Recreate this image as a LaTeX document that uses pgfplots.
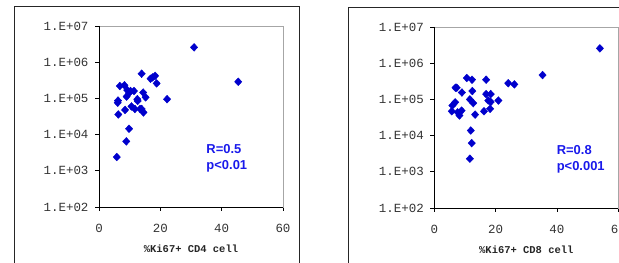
\documentclass[border=0pt]{standalone}
\usepackage{fontspec}
\setmainfont{Liberation Sans}
\setsansfont{Liberation Sans}
\setmonofont{Liberation Mono}
\usepackage{pgfplots}
\pgfplotsset{compat=1.18}
\definecolor{mk}{RGB}{0,0,204}
\definecolor{tx}{RGB}{25,25,235}
\pgfplotsset{
  panel/.style={
    scale only axis, width=184bp, height=181bp, anchor=south west,
    xmin=0, xmax=60, ymin=1e2, ymax=1e7,
    xtick={0,20,40,60}, xticklabels={0,20,40,60},
    ytick={1e2,1e3,1e4,1e5,1e6,1e7},
    yticklabels={1.E+02,1.E+03,1.E+04,1.E+05,1.E+06,1.E+07},
    yminorticks=false,
    tick align=outside, major tick length=4bp,
    xtick pos=bottom, ytick pos=left,
    tick style={black, line width=0.8bp},
    axis line style={gray!70, line width=0.8bp},
    ticklabel style={font=\fontsize{12.5}{14}\selectfont\ttfamily, text=black!80},
    yticklabel style={xshift=-3bp},
    xticklabel style={yshift=-10bp},
    xlabel style={font=\fontsize{10.5}{12}\selectfont\ttfamily\bfseries, text=black!85, at={(axis description cs:0.5,0)}, anchor=center, yshift=-42bp},
    clip=false,
  },
  pts/.style={only marks, mark=diamond*, mark size=3.9bp, mark options={fill=mk, draw=mk, xscale=1.25}},
}
\begin{document}
\begin{tikzpicture}
\useasboundingbox (0,0) rectangle (619bp,263bp);
\clip (0,0) rectangle (619bp,263bp);
\draw[black!85, line width=1bp] (14bp,-5bp) -- (14bp,256bp) -- (299bp,256bp) -- (299bp,-5bp);
\draw[black!85, line width=1bp] (348bp,-5bp) -- (348bp,255bp) -- (640bp,255bp);
\begin{axis}[ymode=log, panel, at={(99bp,56bp)}, xlabel={\%Ki67+ CD4 cell}]
\addplot[pts] coordinates {
(31.0,2.57e6) (45.4,2.88e5) (22.2,9.5e4) (5.8,2.4e3) (8.9,6.5e3) (9.8,1.45e4)
(13.9,4.8e5) (16.8,3.5e5) (18.3,4.2e5) (18.8,2.6e5) (17.5,3.8e5)
(6.3,3.6e4) (6.1,7.6e4) (6.2,8.7e4) (6.8,2.2e5) (8.3,2.3e5) (9.2,1.7e5)
(9.0,1.12e5) (8.5,4.8e4) (10.6,6.0e4) (11.7,5.1e4) (13.4,5.1e4) (14.5,4.1e4)
(13.9,5.1e4) (11.4,1.6e5) (12.5,9.5e4) (12.6,8.5e4) (14.4,1.45e5) (15.2,1.07e5)
(10.3,1.6e5) (9.8,1.4e5)
};
\draw[black, line width=0.8bp] (rel axis cs:0,1) -- (rel axis cs:0,0) -- (rel axis cs:1,0);
\node[anchor=west, align=left, text=tx, font=\fontsize{13}{16}\selectfont\bfseries\sffamily] at (axis cs:33.9,2.24e3) {R=0.5\\p<0.01};
\end{axis}
\begin{axis}[ymode=log, panel, at={(434.3bp,55bp)}, xlabel={\%Ki67+ CD8 cell}]
\addplot[pts] coordinates {
(54.0,2.57e6) (35.3,4.7e5) (24.1,2.8e5) (26.1,2.6e5) (11.6,2.3e3) (12.2,6.2e3)
(11.9,1.38e4) (10.6,3.9e5) (12.3,3.5e5) (16.9,3.5e5) (6.9,2.1e5) (7.3,2.1e5)
(9.0,1.55e5) (12.4,1.7e5) (16.9,1.4e5) (18.4,1.4e5) (11.6,1.0e5) (12.7,7.9e4)
(17.6,9.3e4) (20.9,9.3e4) (18.4,8.5e4) (6.8,8.3e4) (5.9,6.8e4) (5.7,4.7e4)
(8.9,4.9e4) (8.2,3.6e4) (7.6,4.4e4) (13.3,3.8e4) (16.2,4.7e4) (18.2,5.5e4)
};
\draw[black, line width=0.8bp] (rel axis cs:0,1) -- (rel axis cs:0,0) -- (rel axis cs:1,0);
\node[anchor=west, align=left, text=tx, font=\fontsize{13}{16}\selectfont\bfseries\sffamily] at (axis cs:38.8,2.24e3) {R=0.8\\p<0.001};
\end{axis}
\end{tikzpicture}
\end{document}
